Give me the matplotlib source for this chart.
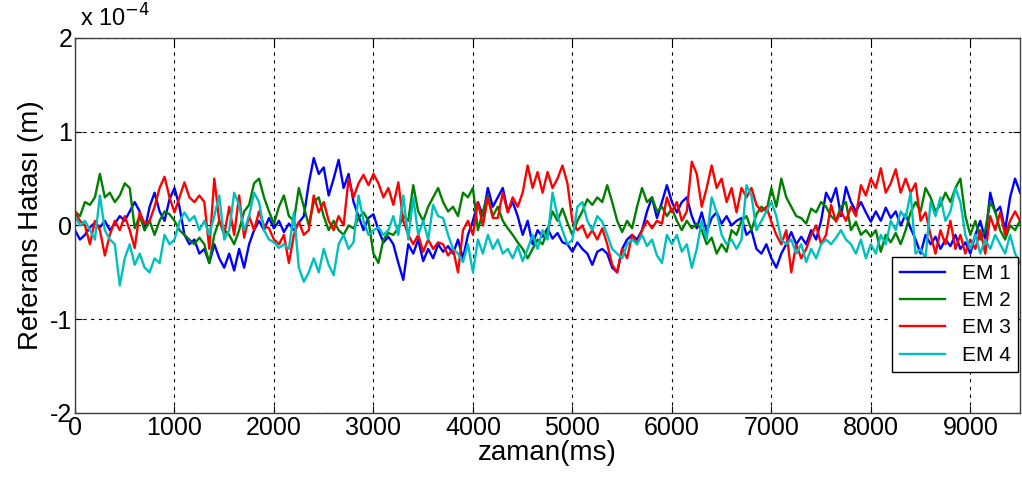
import numpy as np
import matplotlib
matplotlib.use("Agg")
import matplotlib.pyplot as plt

plt.rcParams['font.family'] = ['Liberation Sans', 'DejaVu Sans']

# samples every 50 ms, values in units of 1e-5 m
time_ms = np.arange(0, 9501, 50)

em1 = [
    -0.5, -1.5, -1.0, -0.2, 0.3, -0.2, 0.5, -0.5, 0.2, 1.0, 0.5, 1.5, 2.5, 1.5, -0.5, 2.0, 3.5, 1.5, 0.5, 2.8,
    4.0, 2.0, -1.0, -2.0, -1.5, -3.0, -2.5, -4.0, -2.0, -3.5, -4.5, -3.0, -4.8, -2.5, -4.5, -2.0, -0.5, 0.5, -0.5, 0.8,
    -0.3, 0.5, -0.7, 0.2, -0.5, 0.3, 1.0, 4.5, 7.2, 5.5, 6.2, 3.2, 5.0, 7.0, 4.0, 5.5, 2.5, 1.0, -0.5, 0.8,
    1.2, -0.5, -1.8, -1.2, -2.0, -4.0, -5.8, -2.0, -3.0, -1.5, -3.8, -2.5, -3.5, -2.0, -2.8, -2.2, -3.0, -1.5, -3.5, -1.0,
    0.5, 2.5, 1.0, 4.0, 2.0, 3.0, 4.0, 1.5, 2.5, 1.0, -1.0, 0.5, -2.0, -0.5, -1.2, -0.3, -1.4, -0.8, -1.8, -2.0,
    -2.8, -1.8, -2.5, -3.0, -4.2, -2.8, -2.5, -3.0, -4.5, -5.0, -2.5, -1.5, -1.0, -1.5, -0.5, 1.5, 3.0, 0.8, 2.5, 4.3,
    2.5, 1.4, 2.5, 3.0, 1.0, -0.3, 1.4, -0.7, 0.8, 1.4, 0.2, 1.0, 0.0, 0.5, 0.8, -1.0, -0.5, -2.5, -3.0, -2.0,
    -3.5, -4.5, -3.0, -2.0, -0.7, -2.0, -1.2, -2.0, -0.5, -1.5, 0.5, 3.5, 2.5, 4.0, 1.0, 4.1, 2.5, 1.5, 2.5, 1.4,
    0.4, 1.5, 0.5, 1.9, 0.8, 1.5, 0.0, 1.2, -0.3, -1.5, -3.0, -1.0, -2.0, -1.2, -2.5, -1.5, -2.2, -1.0, -2.5, -1.8,
    -3.0, -1.0, 0.5, -1.5, 3.5, 1.4, 2.0, -0.5, 3.0, 5.0, 3.5,
]
em2 = [
    1.5, 1.0, 2.5, 2.2, 3.0, 5.5, 3.0, 3.5, 2.5, 3.2, 4.5, 4.0, -0.3, 1.0, -0.5, 0.5, -1.0, 0.5, 1.5, 1.2,
    0.5, -0.5, -1.0, -1.5, -2.0, -1.3, -2.0, -4.0, -1.0, 0.5, -0.5, -1.0, -2.0, -0.5, 1.5, 2.2, 4.5, 5.0, 3.0, 1.5,
    0.2, 2.0, 3.2, 1.0, 0.5, 4.0, 2.0, 0.0, 2.5, 3.0, 1.0, -0.5, 0.5, -0.5, -1.0, 0.0, -0.3, 0.8, 1.4, 0.5,
    -3.0, -4.0, -1.5, -0.8, -1.0, -0.3, 1.0, 0.5, 4.3, 1.5, 0.5, 2.0, 3.0, 4.0, 2.5, 1.5, 2.0, 1.0, 3.5, 3.0,
    4.0, -0.5, 1.5, 3.2, 1.0, 2.0, 0.5, -0.3, -1.0, -1.8, -2.5, -3.5, -2.5, -1.5, -2.0, -0.5, 1.5, 0.5, 1.8, 0.3,
    -1.0, 0.5, 1.5, 2.8, 2.2, 3.0, 2.5, 4.3, 2.5, 0.5, -0.7, 0.5, -0.3, 2.0, 4.0, 2.5, 3.0, 1.5, 2.0, 1.0,
    1.8, 0.5, -0.5, 0.5, -0.3, 0.2, -0.5, -2.0, -1.3, -3.0, -2.0, -2.8, -0.5, -1.0, 0.5, 1.0, -0.5, 1.2, 2.0, 1.5,
    4.0, 2.0, 5.0, 3.0, 2.0, 1.0, 0.8, 0.2, 1.8, 1.4, 2.5, 2.0, 1.0, 0.5, 2.0, 2.5, -0.5, 0.4, -1.0, -0.5,
    -1.2, -0.5, -2.8, -1.0, -1.8, -0.8, -2.0, -0.5, 1.4, 2.5, 1.5, 4.0, 3.0, 1.5, 2.2, 3.5, 2.5, 4.0, 5.0, 1.0,
    -1.0, 0.5, -1.5, -0.5, 2.5, 1.5, -0.5, -1.5, 0.0, -0.5, 0.5,
]
em3 = [
    1.4, 0.5, 0.0, -2.0, 0.5, -0.5, -3.2, -1.0, 0.5, -0.5, 1.0, -0.5, -2.4, 1.4, 0.2, 0.5, 2.0, 4.0, 5.2, 3.0,
    1.4, 3.0, 4.6, 3.0, 2.5, 3.2, 2.5, -2.5, 5.0, 0.5, -1.0, 2.0, -1.0, 3.2, -1.3, 1.0, -0.5, 1.5, 0.0, -0.3,
    -1.5, -2.0, -1.0, -4.0, -1.0, 0.4, -1.0, -0.5, 3.2, 1.4, 2.5, 0.5, -0.5, 1.0, 0.0, 5.0, 3.0, 4.5, 5.4, 4.3,
    5.5, 4.5, 3.0, 4.0, 2.2, 4.6, 0.5, -1.0, -2.0, -1.0, -2.8, -1.5, -2.5, -1.8, -2.0, -3.2, -2.5, -5.0, -0.5, 0.5,
    -1.0, 2.5, 0.0, 3.0, 0.8, 0.8, 3.5, 1.4, 3.0, 2.0, 3.5, 6.4, 4.0, 5.7, 3.5, 5.7, 4.0, 5.0, 6.4, 4.5,
    0.4, -0.5, 0.0, -1.3, -0.5, -1.5, -0.3, -2.0, -4.2, -5.0, -2.5, -3.5, -1.0, -2.0, -0.5, 0.5, -0.3, 0.5, 0.2, 3.0,
    1.4, 2.5, 0.5, 1.5, 6.8, 5.5, 2.0, 4.0, 6.4, 4.0, 5.0, 2.5, 4.0, 1.4, 4.0, 3.0, 4.0, 2.2, 1.5, 2.0,
    0.4, -1.0, -2.0, -0.5, -5.0, -2.0, -3.5, -2.5, -1.0, 0.0, -2.0, -1.0, 2.2, 0.4, 1.5, 0.5, 2.0, 1.0, 4.3, 3.2,
    5.0, 4.0, 6.1, 3.5, 4.5, 6.0, 3.5, 5.0, 3.5, 4.5, 0.5, 1.4, -1.0, -3.0, -0.5, -2.0, 0.5, -2.5, -1.0, -3.0,
    -1.5, -2.5, -0.5, -3.0, 1.0, -0.5, 1.4, -1.0, 0.5, 1.5, 0.5,
]
em4 = [
    1.0, 0.0, 0.5, -0.5, -1.5, 3.2, -0.5, -1.5, -2.0, -6.4, -3.5, -2.0, -4.2, -3.0, -4.5, -5.0, -3.5, -4.0, -1.0, -2.0,
    -1.5, 0.4, 1.4, 0.5, 1.0, -0.5, 0.5, -1.0, 1.0, 3.2, -1.5, -0.5, 3.5, 2.2, -0.5, 1.0, 3.5, 2.5, -0.5, -1.5,
    -1.8, -2.4, -2.0, -2.5, 1.4, -4.5, -6.0, -5.0, -3.5, -5.0, -2.5, -4.2, -5.3, -2.0, -1.0, -2.5, -1.8, 3.2, 0.5, -1.0,
    -0.5, -0.2, -1.0, -0.5, 1.0, -1.0, 3.2, -1.5, 3.0, -1.0, 0.5, -1.5, 2.2, 1.0, 0.8, -1.0, -2.5, -3.0, -3.9, -2.0,
    -5.0, -1.5, -3.0, -1.0, -2.5, -1.5, -3.0, -2.5, -3.5, -2.2, -3.8, -2.5, -1.0, -2.5, -0.5, -1.5, 3.5, 1.0, -0.5, -2.0,
    -1.5, 2.0, 2.5, 0.5, -0.5, 1.0, 0.4, -1.0, -2.5, -3.0, -3.5, -2.0, -1.5, -2.0, -1.0, -2.2, -1.5, -3.2, -4.0, -1.0,
    -2.0, -1.0, -2.8, -2.0, -4.5, -2.5, 0.5, -1.5, 3.0, 1.4, -1.0, -2.0, -1.5, -2.5, -1.5, 4.3, 3.2, -0.5, 0.5, 1.5,
    2.5, 1.0, -1.5, -2.0, -1.5, -3.0, -2.0, -3.9, -2.5, -3.5, -2.0, -1.5, -2.0, -1.3, -0.5, -1.5, -2.0, -3.0, -1.5, -3.5,
    -2.0, -3.0, -1.0, -2.0, 0.5, -0.5, 1.5, 0.8, 3.5, -3.0, -2.5, -3.5, 2.5, 1.0, 3.0, 0.5, 1.5, 4.0, 2.5, -1.0,
    -2.5, -1.0, -3.0, -1.5, -2.5, -1.0, -2.0, -3.0, -1.0, -3.0, -4.0,
]

series = [em1, em2, em3, em4]
labels = ['EM 1', 'EM 2', 'EM 3', 'EM 4']
colors = ['#0000ff', '#008000', '#ff0000', '#00bfbf']
y_ticks = [-2, -1, 0, 1, 2]
x_ticks = list(range(0, 9001, 1000))

fig = plt.figure(figsize=(10.22, 4.79), dpi=100)
ax = fig.add_axes([0.0734, 0.1378, 0.9247, 0.7829])

for vals, lab, col in zip(series, labels, colors):
    ax.plot(time_ms, np.array(vals) * 1e-5, color=col, lw=1.7, label=lab)

ax.set_xlim(0, 9500)
ax.set_ylim(-2e-4, 2e-4)
ax.set_xticks(x_ticks)
ax.set_xticklabels([str(v) for v in x_ticks])
ax.set_yticks([v * 1e-4 for v in y_ticks])
ax.set_yticklabels([str(v) for v in y_ticks])
ax.tick_params(direction='in', top=True, right=True, labelsize=18, length=5, pad=2)
ax.grid(True, color='k', linestyle=(0, (3, 4)), lw=0.8)
for sp in ax.spines.values():
    sp.set_color('#404040')
    sp.set_linewidth(1.0)

ax.set_xlabel('zaman(ms)', fontsize=20, labelpad=0)
ax.set_ylabel('Referans Hatası (m)', fontsize=20, labelpad=4)
fig.text(0.078, 0.935, r'x 10$^{-4}$', fontsize=17, ha='left', va='bottom')

leg = ax.legend(loc='lower right', bbox_to_anchor=(0.998, 0.109), borderaxespad=0,
                fontsize=15, fancybox=False, framealpha=1, handlelength=2.2,
                labelspacing=0.4, borderpad=0.35)
leg.get_frame().set_edgecolor('k')
leg.get_frame().set_linewidth(1.0)

fig.savefig('out.png', dpi=100)
